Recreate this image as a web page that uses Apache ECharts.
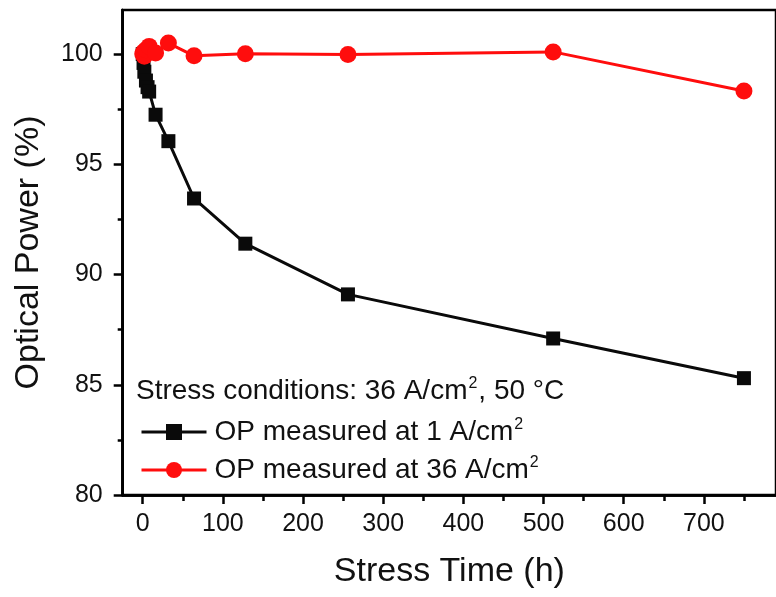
<!DOCTYPE html>
<html>
<head>
<meta charset="utf-8">
<script src="https://cdn.jsdelivr.net/npm/echarts@6/dist/echarts.min.js"></script>
<style>html,body{margin:0;padding:0;background:#fff;}#c{width:776px;height:597px;}</style>
</head>
<body>
<div id="c"></div>
<script>
// Data
const lowTime = [0, 1, 2, 4, 6, 8, 16, 32, 64, 128, 256, 512, 750];
const lowOP = [100, 99.6, 99.2, 98.8, 98.5, 98.3, 97.25, 96.05, 93.45, 91.4, 89.1, 87.1, 85.3];
const highTime = [0, 1, 2, 4, 8, 16, 32, 64, 128, 256, 512, 750];
const highOP = [100, 100.1, 99.9, 100.2, 100.35, 100.05, 100.5, 99.92, 100.02, 99.98, 100.1, 98.33];
const xMajorTicks = [0, 100, 200, 300, 400, 500, 600, 700];
const xMinorTicks = [50, 150, 250, 350, 450, 550, 650, 750];
const yMajorTicks = [80, 85, 90, 95, 100];
const yMinorTicks = [82.5, 87.5, 92.5, 97.5];
const seriesNames = ['OP measured at 1 A/cm2', 'OP measured at 36 A/cm2'];

const FONT = '"Liberation Sans", Arial, sans-serif';
const chart = echarts.init(document.getElementById('c'), null, {renderer: 'canvas'});
const X_MIN = -25, X_MAX = 790, Y_MIN = 80, Y_MAX = 102;
const axisLine = {show: true, onZero: false, lineStyle: {color: '#000', width: 2.5}};

const xBase = {
  type: 'value', min: X_MIN, max: X_MAX, gridIndex: 0, position: 'bottom',
  splitLine: {show: false}, axisLine: axisLine
};
const yBase = {
  type: 'value', min: Y_MIN, max: Y_MAX, gridIndex: 0, position: 'left',
  splitLine: {show: false}, axisLine: axisLine
};

chart.setOption({
  animation: false,
  backgroundColor: '#fff',
  grid: {left: 122.7, top: 10, width: 673, height: 485, show: true, borderColor: '#000', borderWidth: 2.5, containLabel: false},
  xAxis: [
    Object.assign({}, xBase, {
      name: 'Stress Time (h)', nameLocation: 'middle', nameGap: 60,
      nameTextStyle: {fontFamily: FONT, fontSize: 34, color: '#111'},
      axisTick: {show: true, inside: false, length: 9, lineStyle: {color: '#000', width: 2.5}, customValues: xMajorTicks},
      axisLabel: {show: true, margin: 17, fontFamily: FONT, fontSize: 25, color: '#111', customValues: xMajorTicks}
    }),
    Object.assign({}, xBase, {
      axisTick: {show: true, inside: false, length: 6, lineStyle: {color: '#000', width: 2.5}, customValues: xMinorTicks},
      axisLabel: {show: false}
    })
  ],
  yAxis: [
    Object.assign({}, yBase, {
      name: 'Optical Power (%)', nameLocation: 'middle', nameGap: 77,
      nameTextStyle: {fontFamily: FONT, fontSize: 34, color: '#111'},
      axisTick: {show: true, inside: false, length: 9, lineStyle: {color: '#000', width: 2.5}, customValues: yMajorTicks},
      axisLabel: {show: true, margin: 20, fontFamily: FONT, fontSize: 25, color: '#111', customValues: yMajorTicks}
    }),
    Object.assign({}, yBase, {
      axisTick: {show: true, inside: false, length: 5, lineStyle: {color: '#000', width: 2.5}, customValues: yMinorTicks},
      axisLabel: {show: false}
    })
  ],
  legend: {
    orient: 'vertical', left: 135, top: 412, itemGap: 9, itemWidth: 65, itemHeight: 20,
    data: seriesNames,
    lineStyle: {width: 3},
    formatter: function (n) { return '{a|' + n.slice(0, -1) + '}{s|2}'; },
    textStyle: {
      fontFamily: FONT, fontSize: 28, color: '#111', padding: [0, 0, 0, 3],
      rich: {
        a: {fontFamily: FONT, fontSize: 28, color: '#111', lineHeight: 30},
        s: {fontFamily: FONT, fontSize: 16, color: '#111', verticalAlign: 'top', lineHeight: 30, padding: [0, 0, 12, 1]}
      }
    }
  },
  graphic: [{
    type: 'text', left: 136, top: 376,
    style: {
      text: '{a|Stress conditions: 36 A/cm}{s|2}{a|, 50 °C}',
      rich: {
        a: {fontFamily: FONT, fontSize: 28, fill: '#111', lineHeight: 30},
        s: {fontFamily: FONT, fontSize: 16, fill: '#111', verticalAlign: 'top', lineHeight: 30, padding: [0, 1, 12, 1]}
      }
    }
  }],
  series: [
    {
      name: seriesNames[0], type: 'line', xAxisIndex: 0, yAxisIndex: 0,
      data: lowTime.map((t, i) => [t, lowOP[i]]),
      symbol: 'rect', symbolSize: 14,
      itemStyle: {color: '#0a0a0a'}, lineStyle: {color: '#0a0a0a', width: 3}, z: 3
    },
    {
      name: seriesNames[1], type: 'line', xAxisIndex: 0, yAxisIndex: 0,
      data: highTime.map((t, i) => [t, highOP[i]]),
      symbol: 'circle', symbolSize: 17,
      itemStyle: {color: '#ff0d0d'}, lineStyle: {color: '#ff0d0d', width: 3}, z: 4
    }
  ]
});
</script>
</body>
</html>
